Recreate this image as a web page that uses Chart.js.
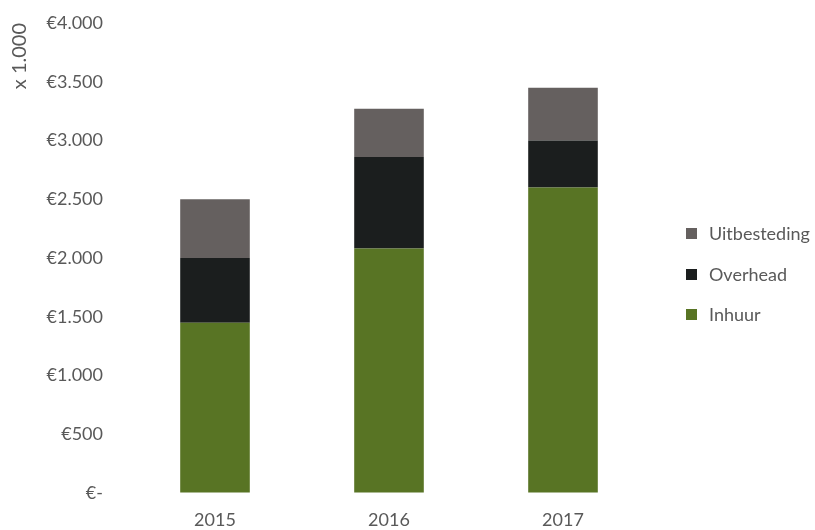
<!DOCTYPE html>
<html>
<head>
<meta charset="utf-8">
<script src="https://cdn.jsdelivr.net/npm/chart.js@4"></script>
<style>
  body { margin: 0; background: #fff; }
  #wrap { position: relative; width: 815px; height: 530px; }
  #legenda { position: absolute; left: 686px; top: 222px; font-family: Lato, sans-serif; font-size: 18px; color: #595959; }
  .item { height: 40.5px; display: flex; align-items: flex-start; }
  .blok { width: 11px; height: 11px; margin-top: 6px; margin-right: 12px; }
</style>
</head>
<body>
<div id="wrap">
  <canvas id="grafiek" width="815" height="530"></canvas>
  <div id="legenda"></div>
</div>
<script>
const jaren = ["2015", "2016", "2017"];
const inhuur = [1450, 2080, 2600];
const overhead = [550, 780, 400];
const uitbesteding = [500, 410, 450];

const kleuren = {
  Inhuur: "#587424",
  Overhead: "#1b1e1e",
  Uitbesteding: "#65605f",
};

function formatEuro(waarde) {
  if (waarde === 0) {
    return "€-";
  }
  return "€" + waarde.toString().replace(/\B(?=(\d{3})+(?!\d))/g, ".");
}

const datasets = [
  { label: "Inhuur", data: inhuur, backgroundColor: kleuren.Inhuur },
  { label: "Overhead", data: overhead, backgroundColor: kleuren.Overhead },
  { label: "Uitbesteding", data: uitbesteding, backgroundColor: kleuren.Uitbesteding },
];

// legenda in omgekeerde volgorde, zoals in het origineel
const legenda = document.getElementById("legenda");
datasets.slice().reverse().forEach((ds) => {
  const rij = document.createElement("div");
  rij.className = "item";
  const blok = document.createElement("span");
  blok.className = "blok";
  blok.style.background = ds.backgroundColor;
  const tekst = document.createElement("span");
  tekst.textContent = ds.label;
  rij.appendChild(blok);
  rij.appendChild(tekst);
  legenda.appendChild(rij);
});

const ctx = document.getElementById("grafiek").getContext("2d");
const grafiek = new Chart(ctx, {
  type: "bar",
  data: {
    labels: jaren,
    datasets: datasets.map((ds) => ({
      ...ds,
      borderWidth: 0,
      categoryPercentage: 1,
      barPercentage: 0.4,
    })),
  },
  options: {
    responsive: false,
    animation: false,
    layout: {
      padding: { left: 0, right: 165, top: 23, bottom: 0 },
    },
    plugins: {
      legend: { display: false },
      tooltip: { enabled: false },
    },
    scales: {
      x: {
        stacked: true,
        grid: { display: false, drawTicks: false },
        border: { display: false },
        ticks: {
          color: "#595959",
          font: { family: "Lato", size: 18 },
          padding: 16,
        },
        afterFit: (schaal) => {
          schaal.height = 37;
        },
      },
      y: {
        stacked: true,
        min: 0,
        max: 4000,
        grid: {
          drawOnChartArea: false,
          drawTicks: true,
          tickLength: 22,
          color: "rgba(0,0,0,0)",
        },
        border: { display: false },
        ticks: {
          stepSize: 500,
          color: "#595959",
          font: { family: "Lato", size: 18 },
          padding: 3,
          callback: (waarde) => formatEuro(waarde),
        },
        title: {
          display: true,
          text: "x 1.000",
          align: "end",
          color: "#595959",
          font: { family: "Lato", size: 20 },
          padding: { top: 8, bottom: 0 },
        },
        afterFit: (schaal) => {
          schaal.width = 128;
        },
      },
    },
  },
});
</script>
</body>
</html>
